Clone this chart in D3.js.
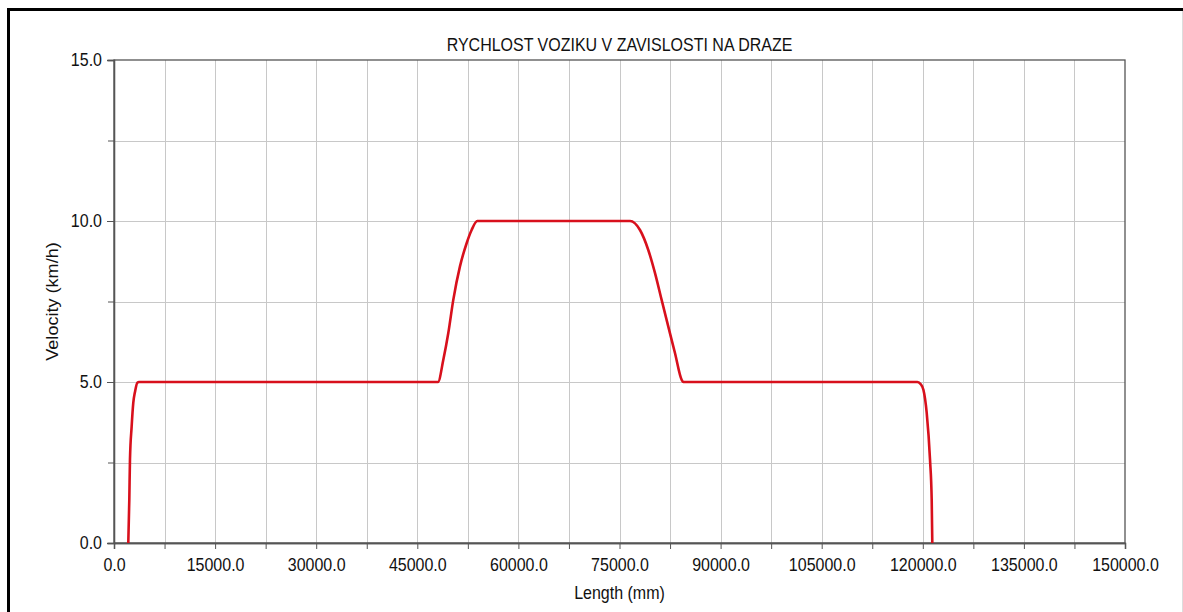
<!DOCTYPE html>
<html>
<head>
<meta charset="utf-8">
<script src="https://cdn.jsdelivr.net/npm/d3@7"></script>
<style>
  html, body { margin: 0; padding: 0; background: #fff; }
  svg { display: block; }
  text { font-family: "Liberation Sans", Arial, sans-serif; fill: #111; }
  .stretch { transform-box: fill-box; transform-origin: center; transform: scaleY(1.13); }
  .stretchx { transform-box: fill-box; transform-origin: center; transform: scaleX(1.13); }
</style>
</head>
<body>
<svg id="chart" width="1183" height="612"></svg>
<script>
// ---- data ----
const chartTitle = "RYCHLOST VOZIKU V ZAVISLOSTI NA DRAZE";
const xLabel = "Length (mm)";
const yLabel = "Velocity (km/h)";
const lengthMm = [2120, 2270, 2370, 2620, 2860, 3120, 3460, 3700,
  48070, 48860, 49600, 50340, 51330, 52320, 53060, 53900,
  76560, 78040, 79270, 80270, 81250, 82240, 83230, 84220, 84470,
  119200, 119700, 120090, 120580, 121070, 121320, 121410];
const velocity = [0, 1.34, 2.59, 3.62, 4.35, 4.7, 4.98, 5,
  5, 5.69, 6.52, 7.55, 8.59, 9.31, 9.72, 10,
  10, 9.72, 9.10, 8.38, 7.55, 6.72, 5.90, 5.07, 5.0,
  5.0, 4.93, 4.76, 4.04, 2.59, 1.34, 0];
const xTickValues = [0, 15000, 30000, 45000, 60000, 75000, 90000, 105000, 120000, 135000, 150000];
const xMinorTickValues = [7500, 22500, 37500, 52500, 67500, 82500, 97500, 112500, 127500, 142500];
const yTickValues = [0, 5, 10, 15];
const yMinorTickValues = [2.5, 7.5, 12.5];

// ---- layout ----
const svg = d3.select("#chart");
const L = 114, R = 1125, T = 60, B = 543;
const x = d3.scaleLinear().domain([0, 150000]).range([L, R]);
const y = d3.scaleLinear().domain([0, 15]).range([B, T]);
const fmt = d3.format(".1f");

// outer frame
svg.append("line").attr("x1", 8.5).attr("x2", 8.5).attr("y1", 8).attr("y2", 612)
  .attr("stroke", "#000").attr("stroke-width", 3);
svg.append("line").attr("x1", 7).attr("x2", 1183).attr("y1", 9.5).attr("y2", 9.5)
  .attr("stroke", "#000").attr("stroke-width", 3);
svg.append("line").attr("x1", 1182.5).attr("x2", 1182.5).attr("y1", 11).attr("y2", 612)
  .attr("stroke", "#ddd").attr("stroke-width", 1);

// grid
const gridX = xTickValues.concat(xMinorTickValues).filter(v => v > 0 && v < 150000);
svg.append("g").selectAll("line").data(gridX).join("line")
  .attr("x1", d => Math.round(x(d)) + 0.5).attr("x2", d => Math.round(x(d)) + 0.5)
  .attr("y1", T).attr("y2", B).attr("stroke", "#c8c8c8").attr("stroke-width", 1);
const gridY = yTickValues.concat(yMinorTickValues).filter(v => v > 0 && v < 15);
svg.append("g").selectAll("line").data(gridY).join("line")
  .attr("y1", d => Math.round(y(d)) + 0.5).attr("y2", d => Math.round(y(d)) + 0.5)
  .attr("x1", L).attr("x2", R).attr("stroke", "#c8c8c8").attr("stroke-width", 1);

// plot frame (top/right)
svg.append("rect").attr("x", L).attr("y", T).attr("width", R - L).attr("height", B - T)
  .attr("fill", "none").attr("stroke", "#555").attr("stroke-width", 1.3);

// axes
const xAxis = d3.axisBottom(x).tickValues(xTickValues).tickFormat(fmt).tickSize(6).tickPadding(10);
svg.append("g").attr("transform", `translate(0,${B})`).call(xAxis);
const xMinor = d3.axisBottom(x).tickValues(xMinorTickValues).tickFormat("").tickSize(6);
svg.append("g").attr("transform", `translate(0,${B})`).call(xMinor);

const yAxis = d3.axisLeft(y).tickValues(yTickValues).tickFormat(fmt).tickSize(7).tickPadding(5);
svg.append("g").attr("transform", `translate(${L},0)`).call(yAxis);
const yMinor = d3.axisLeft(y).tickValues(yMinorTickValues).tickFormat("").tickSize(6);
svg.append("g").attr("transform", `translate(${L},0)`).call(yMinor);

svg.selectAll(".domain").attr("stroke", "#555").attr("stroke-width", 1.3);
svg.selectAll(".tick line").attr("stroke", "#555");
svg.selectAll(".tick text").attr("font-size", 16).attr("fill", "#111")
  .attr("font-family", "'Liberation Sans', Arial, sans-serif").classed("stretch", true);

// data line
const line = d3.line().x((d, i) => x(lengthMm[i])).y(d => y(d)).curve(d3.curveMonotoneX);
svg.append("path").datum(velocity).attr("d", line)
  .attr("fill", "none").attr("stroke", "#d8101c").attr("stroke-width", 2.6)
  .attr("stroke-linejoin", "round");

// titles
svg.append("text").attr("x", (L + R) / 2).attr("y", 50).attr("text-anchor", "middle")
  .attr("font-size", 16).classed("stretch", true).text(chartTitle);
svg.append("text").attr("x", (L + R) / 2).attr("y", 598).attr("text-anchor", "middle")
  .attr("font-size", 16).classed("stretch", true).text(xLabel);
svg.append("g").attr("transform", `translate(58,${(T + B) / 2}) rotate(-90)`)
  .append("text").attr("text-anchor", "middle").attr("font-size", 16)
  .classed("stretchx", true).text(yLabel);
</script>
</body>
</html>
